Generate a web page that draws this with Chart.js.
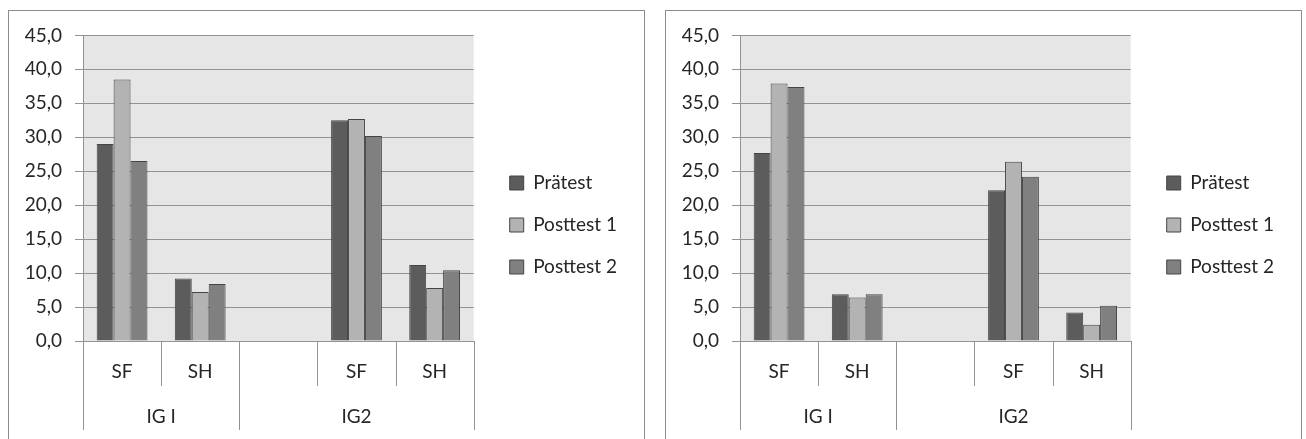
<!DOCTYPE html>
<html>
<head>
<meta charset="utf-8">
<script src="https://cdn.jsdelivr.net/npm/chart.js@4/dist/chart.umd.min.js"></script>
<style>
    body { margin: 0; background: #fff; overflow: hidden; }
    .box { position: absolute; top: 10px; width: 635px; height: 429px; border: 1px solid #8c8c8c; }
</style>
</head>
<body>
<div class="box" style="left:8px"><canvas id="chart_left" width="635" height="429"></canvas></div>
<div class="box" style="left:665px"><canvas id="chart_right" width="635" height="429"></canvas></div>
<script>
const categories = ['SF', 'SH', '', 'SF', 'SH'];
const groups = ['IG I', 'IG2'];
const group_edges = [0, 2, 5];
const series_names = ['Prätest', 'Posttest 1', 'Posttest 2'];
const series_colors = ['#5c5c5c', '#b3b3b3', '#808080'];
const y_tick_labels = ['0,0', '5,0', '10,0', '15,0', '20,0', '25,0', '30,0', '35,0', '40,0', '45,0'];

const left_pretest = [29.0, 9.2, null, 32.5, 11.2];
const left_posttest1 = [38.5, 7.2, null, 32.7, 7.8];
const left_posttest2 = [26.5, 8.4, null, 30.2, 10.4];

const right_pretest = [27.7, 6.9, null, 22.2, 4.2];
const right_posttest1 = [37.9, 6.4, null, 26.4, 2.4];
const right_posttest2 = [37.4, 6.9, null, 24.2, 5.2];

const font_family = 'Lato, "Open Sans", sans-serif';
const text_color = '#262626';
const line_color = '#939393';

// grey plot background
const plot_bg = {
    id: 'plot_bg',
    beforeDraw(chart) {
        const { ctx, chartArea: a } = chart;
        ctx.save();
        ctx.fillStyle = '#e6e6e6';
        ctx.fillRect(a.left, a.top, a.right - a.left, a.bottom - a.top);
        ctx.restore();
    }
};

// category separators and the second label row (IG I / IG2)
const group_axis = {
    id: 'group_axis',
    afterDraw(chart) {
        const { ctx } = chart;
        const x = chart.scales.x;
        const y0 = chart.chartArea.bottom;
        ctx.save();
        ctx.strokeStyle = line_color;
        ctx.lineWidth = 1;
        for (let i = 0; i <= categories.length; i++) {
            const px = Math.round(x.getPixelForValue(i - 0.5)) + 0.5;
            const len = group_edges.includes(i) ? 89 : 45;
            ctx.beginPath();
            ctx.moveTo(px, y0);
            ctx.lineTo(px, y0 + len);
            ctx.stroke();
        }
        ctx.fillStyle = text_color;
        ctx.font = '19px ' + font_family;
        ctx.textAlign = 'center';
        ctx.textBaseline = 'middle';
        groups.forEach((name, g) => {
            const a = x.getPixelForValue(group_edges[g] - 0.5);
            const b = x.getPixelForValue(group_edges[g + 1] - 0.5);
            ctx.fillText(name, (a + b) / 2, y0 + 76);
        });
        ctx.restore();
    }
};

function make_chart(canvas_id, pretest, posttest1, posttest2) {
    const values = [pretest, posttest1, posttest2];
    const ctx = document.getElementById(canvas_id).getContext('2d');
    return new Chart(ctx, {
        type: 'bar',
        data: {
            labels: categories,
            datasets: series_names.map((name, i) => ({
                label: name,
                data: values[i],
                backgroundColor: series_colors[i],
                borderColor: '#454545',
                borderWidth: 1,
                barPercentage: 1,
                categoryPercentage: 0.65
            }))
        },
        options: {
            responsive: false,
            animation: false,
            layout: { padding: { top: 23, right: 17, bottom: 24, left: 0 } },
            plugins: {
                tooltip: { enabled: false },
                legend: {
                    position: 'right',
                    maxWidth: 200,
                    labels: {
                        boxWidth: 14,
                        boxHeight: 14,
                        padding: 23,
                        color: text_color,
                        font: { size: 19, family: font_family }
                    }
                }
            },
            scales: {
                x: {
                    afterFit(s) { s.height = 75; },
                    grid: { display: false, drawTicks: false },
                    border: { color: line_color },
                    ticks: { padding: 19, color: text_color, font: { size: 19, family: font_family } }
                },
                y: {
                    min: 0,
                    max: 45,
                    afterFit(s) { s.width = 74; },
                    grid: { color: line_color, tickLength: 8 },
                    border: { color: line_color },
                    ticks: {
                        stepSize: 5,
                        padding: 13,
                        color: text_color,
                        font: { size: 19, family: font_family },
                        callback: (v, i) => y_tick_labels[i]
                    }
                },
                gap: {
                    position: 'right',
                    afterFit(s) { s.width = 13; },
                    grid: { display: false, drawTicks: false },
                    border: { display: false },
                    ticks: { display: false }
                }
            }
        },
        plugins: [plot_bg, group_axis]
    });
}

make_chart('chart_left', left_pretest, left_posttest1, left_posttest2);
make_chart('chart_right', right_pretest, right_posttest1, right_posttest2);
</script>
</body>
</html>
